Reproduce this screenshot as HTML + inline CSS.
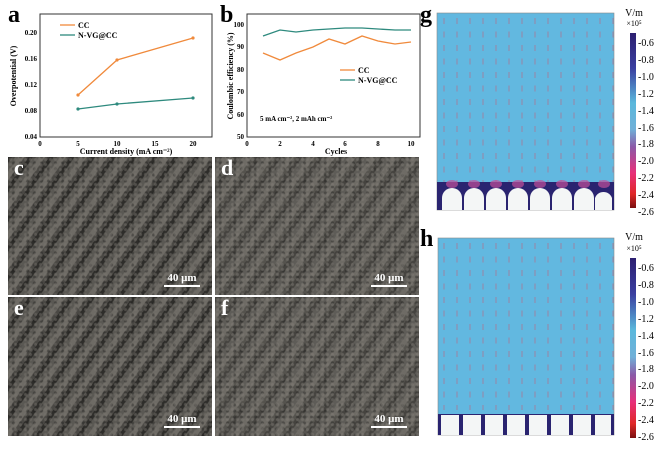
<!DOCTYPE html><html><head><style>
html,body{margin:0;width:668px;height:451px;background:#fff;overflow:hidden;position:relative;font-family:"Liberation Serif",serif}
.sem{position:absolute;overflow:hidden;background:radial-gradient(circle,rgba(120,116,110,.5) 1px,transparent 2px) 0 0/5px 5px,radial-gradient(circle,rgba(30,30,28,.4) 1px,transparent 2px) 2px 3px/7px 6px,repeating-linear-gradient(125deg,#2e2d2a 0 3px,#5a5853 4px 8px,#6e6b65 9px 13px,#4a4844 14px 17px)}
.sem.b{background:radial-gradient(circle,rgba(130,126,120,.5) 1px,transparent 2px) 0 0/5px 5px,radial-gradient(circle,rgba(30,30,28,.4) 1px,transparent 2px) 2px 3px/7px 6px,repeating-linear-gradient(125deg,#45433f 0 3px,#5e5c57 4px 8px,#6e6b65 9px 13px,#55534e 14px 17px)}
.lab{position:absolute;color:#fff;font-weight:bold;font-size:22px;left:6px;top:-2px}
.sb{position:absolute;right:12px;bottom:8px;color:#fff;font-weight:bold;font-size:11px;text-align:center;width:36px;border-bottom:2px solid #fff;line-height:14px}
</style></head><body>
<svg width="668" height="451" style="position:absolute;left:0;top:0" font-family="Liberation Serif,serif" font-weight="bold">
<text x="8" y="22" font-size="24">a</text>
<rect x="40" y="14" width="172" height="123" fill="none" stroke="#333"/>
<g font-size="7" text-anchor="end"><text x="37" y="35">0.20</text><text x="37" y="61">0.16</text><text x="37" y="87">0.12</text><text x="37" y="113">0.08</text><text x="37" y="139">0.04</text></g>
<g font-size="7" text-anchor="middle"><text x="40" y="146">0</text><text x="78" y="146">5</text><text x="117" y="146">10</text><text x="155" y="146">15</text><text x="193" y="146">20</text></g>
<text x="126" y="154" font-size="8" text-anchor="middle">Current density (mA cm⁻²)</text>
<text transform="translate(16,76) rotate(-90)" font-size="8" text-anchor="middle">Overpotential (V)</text>
<polyline points="78,95 117,60 193,38" fill="none" stroke="#f08a3c" stroke-width="1.3"/>
<polyline points="78,109 117,104 193,98" fill="none" stroke="#2e8a7e" stroke-width="1.3"/>
<g fill="#f08a3c"><circle cx="78" cy="95" r="1.6"/><circle cx="117" cy="60" r="1.6"/><circle cx="193" cy="38" r="1.6"/></g>
<g fill="#2e8a7e"><circle cx="78" cy="109" r="1.6"/><circle cx="117" cy="104" r="1.6"/><circle cx="193" cy="98" r="1.6"/></g>
<line x1="60" y1="25" x2="75" y2="25" stroke="#f08a3c" stroke-width="1.3"/><text x="78" y="28" font-size="8">CC</text>
<line x1="60" y1="35" x2="75" y2="35" stroke="#2e8a7e" stroke-width="1.3"/><text x="78" y="38" font-size="8">N-VG@CC</text>
<text x="220" y="22" font-size="24">b</text>
<rect x="247" y="14" width="173" height="123" fill="none" stroke="#333"/>
<g font-size="7" text-anchor="end"><text x="244" y="27">100</text><text x="244" y="49">90</text><text x="244" y="72">80</text><text x="244" y="94">70</text><text x="244" y="117">60</text><text x="244" y="139">50</text></g>
<g font-size="7" text-anchor="middle"><text x="247" y="146">0</text><text x="280" y="146">2</text><text x="313" y="146">4</text><text x="345" y="146">6</text><text x="378" y="146">8</text><text x="411" y="146">10</text></g>
<text x="336" y="154" font-size="8" text-anchor="middle">Cycles</text>
<text transform="translate(233,76) rotate(-90)" font-size="8" text-anchor="middle">Coulombic efficiency (%)</text>
<polyline points="263,53 280,60 296,53 313,47 329,39 345,44 362,36 378,41 395,44 411,42" fill="none" stroke="#f08a3c" stroke-width="1.3"/>
<polyline points="263,36 280,30 296,32 313,30 329,29 345,28 362,28 378,29 395,30 411,30" fill="none" stroke="#2e8a7e" stroke-width="1.3"/>
<line x1="340" y1="70" x2="355" y2="70" stroke="#f08a3c" stroke-width="1.3"/><text x="358" y="73" font-size="8">CC</text>
<line x1="340" y1="80" x2="355" y2="80" stroke="#2e8a7e" stroke-width="1.3"/><text x="358" y="83" font-size="8">N-VG@CC</text>
<text x="260" y="121" font-size="7">5 mA cm⁻², 2 mAh cm⁻²</text>
<text x="420" y="22" font-size="24">g</text>
<text x="420" y="246" font-size="24">h</text>
<defs><linearGradient id="cb" x1="0" y1="0" x2="0" y2="1"><stop offset="0" stop-color="#2c1f70"/><stop offset=".2" stop-color="#3a3fa0"/><stop offset=".4" stop-color="#5ab8dc"/><stop offset=".55" stop-color="#70b0d8"/><stop offset=".65" stop-color="#8b5aa8"/><stop offset=".8" stop-color="#e8307a"/><stop offset=".92" stop-color="#e02828"/><stop offset="1" stop-color="#7a1010"/></linearGradient>
<pattern id="ar" x="441" y="17" width="13" height="13.5" patternUnits="userSpaceOnUse"><line x1="3" y1="1" x2="3" y2="7" stroke="#c0607a" stroke-width=".6"/></pattern>
<pattern id="ar2" x="441" y="242" width="13" height="13.5" patternUnits="userSpaceOnUse"><line x1="3" y1="1" x2="3" y2="7" stroke="#c0607a" stroke-width=".6"/></pattern></defs>
<rect x="437" y="13" width="177" height="197" fill="#62b8e0" stroke="#888" stroke-width=".6"/>
<rect x="437" y="13" width="177" height="170" fill="url(#ar)"/>
<rect x="437" y="182" width="177" height="28" fill="#2a2470"/>
<g fill="#c04f9a" opacity=".7"><ellipse cx="452" cy="184" rx="6" ry="4"/><ellipse cx="474" cy="184" rx="6" ry="4"/><ellipse cx="496" cy="184" rx="6" ry="4"/><ellipse cx="518" cy="184" rx="6" ry="4"/><ellipse cx="540" cy="184" rx="6" ry="4"/><ellipse cx="562" cy="184" rx="6" ry="4"/><ellipse cx="584" cy="184" rx="6" ry="4"/><ellipse cx="604" cy="184" rx="6" ry="4"/></g>
<g fill="#f4f6f6"><path d="M442,210V198a10,10 0 0 1 20,0V210z"/><path d="M464,210V198a10,10 0 0 1 20,0V210z"/><path d="M486,210V198a10,10 0 0 1 20,0V210z"/><path d="M508,210V198a10,10 0 0 1 20,0V210z"/><path d="M530,210V198a10,10 0 0 1 20,0V210z"/><path d="M552,210V198a10,10 0 0 1 20,0V210z"/><path d="M574,210V198a10,10 0 0 1 20,0V210z"/><path d="M595,210V198a9,9 0 0 1 17,0V210z"/></g>
<rect x="630" y="33" width="6" height="175" fill="url(#cb)"/>
<g font-size="10" font-weight="normal"><text x="634" y="16" text-anchor="middle">V/m</text><text x="634" y="26" font-size="8" text-anchor="middle">×10⁵</text>
<text x="638" y="46">-0.6</text><text x="638" y="63">-0.8</text><text x="638" y="80">-1.0</text><text x="638" y="97">-1.2</text><text x="638" y="114">-1.4</text><text x="638" y="131">-1.6</text><text x="638" y="147">-1.8</text><text x="638" y="164">-2.0</text><text x="638" y="181">-2.2</text><text x="638" y="198">-2.4</text><text x="638" y="215">-2.6</text></g>
<rect x="438" y="238" width="176" height="197" fill="#62b8e0" stroke="#888" stroke-width=".6"/>
<rect x="438" y="238" width="176" height="172" fill="url(#ar2)"/>
<rect x="438" y="414" width="176" height="21" fill="#2a2470"/>
<g fill="#f4f6f6"><rect x="441" y="415" width="18" height="20"/><rect x="463" y="415" width="18" height="20"/><rect x="485" y="415" width="18" height="20"/><rect x="507" y="415" width="18" height="20"/><rect x="529" y="415" width="18" height="20"/><rect x="551" y="415" width="18" height="20"/><rect x="573" y="415" width="18" height="20"/><rect x="595" y="415" width="16" height="20"/></g>
<rect x="630" y="258" width="6" height="180" fill="url(#cb)"/>
<g font-size="10" font-weight="normal"><text x="634" y="240" text-anchor="middle">V/m</text><text x="634" y="251" font-size="8" text-anchor="middle">×10⁵</text>
<text x="638" y="271">-0.6</text><text x="638" y="288">-0.8</text><text x="638" y="305">-1.0</text><text x="638" y="322">-1.2</text><text x="638" y="339">-1.4</text><text x="638" y="356">-1.6</text><text x="638" y="372">-1.8</text><text x="638" y="389">-2.0</text><text x="638" y="406">-2.2</text><text x="638" y="423">-2.4</text><text x="638" y="440">-2.6</text></g>
</svg>
<div class="sem" style="left:8px;top:157px;width:204px;height:138px"><div class="lab">c</div><div class="sb">40 μm</div></div>
<div class="sem b" style="left:215px;top:157px;width:204px;height:138px"><div class="lab">d</div><div class="sb">40 μm</div></div>
<div class="sem" style="left:8px;top:297px;width:204px;height:139px"><div class="lab">e</div><div class="sb">40 μm</div></div>
<div class="sem b" style="left:215px;top:297px;width:204px;height:139px"><div class="lab">f</div><div class="sb">40 μm</div></div>
</body></html>
